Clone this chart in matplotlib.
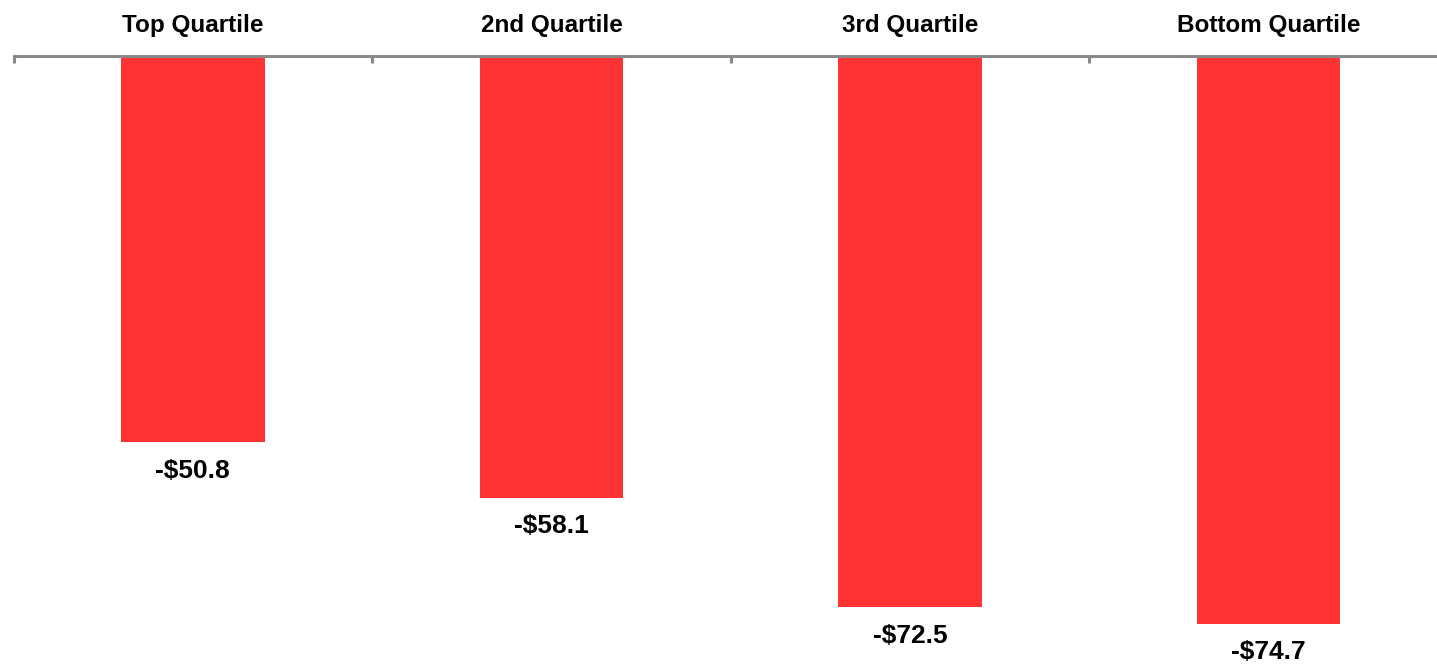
import matplotlib
matplotlib.use("Agg")
import matplotlib.pyplot as plt
import numpy as np

categories = ["Top Quartile", "2nd Quartile", "3rd Quartile", "Bottom Quartile"]
values = [-50.8, -58.1, -72.5, -74.7]
value_labels = ["-$50.8", "-$58.1", "-$72.5", "-$74.7"]

plt.rcParams['font.family'] = ['Liberation Sans', 'DejaVu Sans']

W, H = 1437, 665
fig = plt.figure(figsize=(W / 100, H / 100), dpi=100)
left_px, right_px = 13.5, 1448
top_px, bottom_px = 56, 664
ax = fig.add_axes([left_px / W, 1 - bottom_px / H, (right_px - left_px) / W, (bottom_px - top_px) / H])

x = np.arange(len(categories))
ax.bar(x, values, width=0.4, color="#FF3333")
ax.set_xlim(-0.5, len(categories) - 0.5)
ax.set_ylim(-80, 0)

for s in ["left", "right", "bottom"]:
    ax.spines[s].set_visible(False)
ax.spines["top"].set_color("#888888")
ax.spines["top"].set_linewidth(2.2)
ax.set_yticks([])

ax.xaxis.tick_top()
ax.set_xticks(np.arange(-0.5, len(categories) + 0.5, 1.0))
ax.set_xticklabels([])
ax.tick_params(axis="x", which="major", direction="in", length=5, width=2.2, color="#888888")
ax.set_xticks(x, minor=True)
ax.set_xticklabels(categories, minor=True, fontsize=17.5, fontweight="bold")
ax.tick_params(axis="x", which="minor", length=0, pad=14)

for xi, v, lab in zip(x, values, value_labels):
    ax.annotate(lab, (xi, v), xytext=(0, -12), textcoords="offset points",
                ha="center", va="top", fontsize=19, fontweight="bold")

fig.savefig("out.png", dpi=100)
